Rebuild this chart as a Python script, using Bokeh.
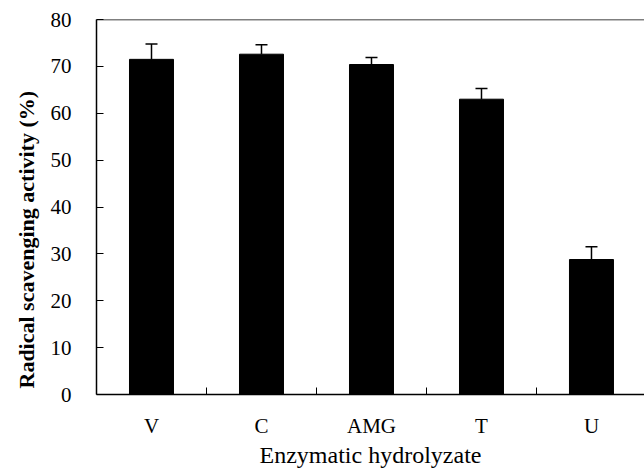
import numpy as np
from bokeh.plotting import figure
from bokeh.models import (ColumnDataSource, FixedTicker, Whisker, TeeHead, Span,
                          Title, Range1d)
from bokeh.embed import file_html
from bokeh.resources import INLINE

categories = ["V", "C", "AMG", "T", "U"]
activity = [71.5, 72.6, 70.4, 63.0, 28.8]
error = [3.3, 2.0, 1.5, 2.3, 2.7]
y_ticks = [0, 10, 20, 30, 40, 50, 60, 70, 80]
x_title = "Enzymatic hydrolyzate"
y_title = "Radical scavenging activity (%)"

FONT = "Liberation Serif"

x = np.arange(len(categories)) + 0.5
upper = np.array(activity) + np.array(error)
src = ColumnDataSource(dict(x=x, top=activity, upper=upper, cat=categories))

p = figure(width=644, height=470,
           x_range=Range1d(0, 4.982),
           y_range=Range1d(y_ticks[0], y_ticks[-1]),
           output_backend="svg", toolbar_location=None,
           min_border_left=96, min_border_right=0,
           min_border_top=19, min_border_bottom=76)
p.outline_line_color = None
p.grid.visible = False
p.background_fill_color = "white"
p.border_fill_color = "white"

p.vbar(x="x", top="top", bottom=0, width=0.4, source=src,
       fill_color="black", line_color="black")

wh = Whisker(base="x", upper="upper", lower="top", source=src,
             upper_head=TeeHead(size=12, line_width=1.5, line_color="black"),
             lower_head=None, line_width=1.5, line_color="black")
p.add_layout(wh)

p.add_layout(Span(location=y_ticks[-1], dimension="width",
                  line_color="black", line_width=1.5))

# y axis
ya = p.yaxis[0]
ya.ticker = FixedTicker(ticks=y_ticks)
ya.major_tick_in = 7
ya.major_tick_out = 0
ya.minor_tick_line_color = None
ya.axis_line_width = 1.5
ya.major_tick_line_width = 1
ya.major_label_text_font = FONT
ya.major_label_text_font_size = "21px"
ya.major_label_text_color = "black"
ya.major_label_standoff = 25

# x axis
xa = p.xaxis[0]
xa.ticker = FixedTicker(ticks=list(x), minor_ticks=list(np.arange(1, len(categories))))
xa.major_label_overrides = {float(xi): c for xi, c in zip(x, categories)}
xa.major_tick_line_color = None
xa.major_tick_in = 0
xa.major_tick_out = 0
xa.minor_tick_in = 7
xa.minor_tick_out = 0
xa.minor_tick_line_width = 1
xa.axis_line_width = 1.5
xa.major_label_text_font = FONT
xa.major_label_text_font_size = "21px"
xa.major_label_text_color = "black"
xa.major_label_standoff = 19
xa.axis_label = x_title
xa.axis_label_text_font = FONT
xa.axis_label_text_font_size = "24px"
xa.axis_label_text_font_style = "normal"
xa.axis_label_text_color = "black"
xa.axis_label_standoff = 1

p.add_layout(Title(text=y_title, align="left", offset=6,
                   text_font=FONT, text_font_style="bold",
                   text_font_size="22px", text_color="black",
                   standoff=18), "left")

open("out.html", "w").write(file_html(p, INLINE))
